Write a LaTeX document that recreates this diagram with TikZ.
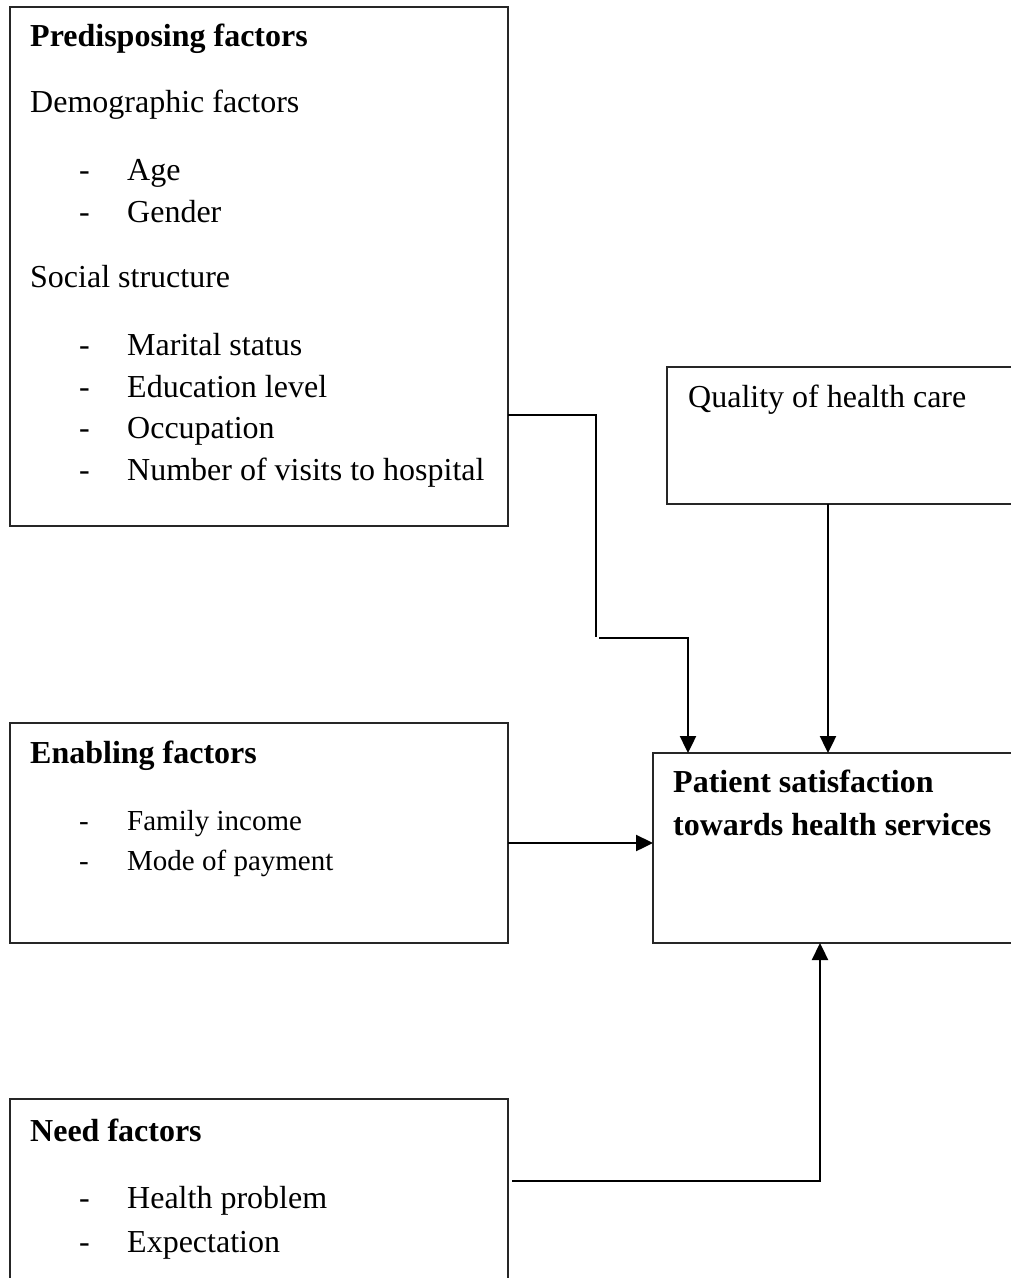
\documentclass[tikz,border=0pt]{standalone}
\usepackage{fontspec}
\setmainfont{Liberation Serif}
\usetikzlibrary{arrows.meta}
\begin{document}
\begin{tikzpicture}[x=1pt,y=-1pt,
  box/.style={draw=black!85, line width=1.3pt, rectangle, inner sep=0pt, outer sep=0pt, anchor=north west},
  txt/.style={anchor=base west, inner sep=0pt, font=\fontsize{32}{38}\selectfont},
  btxt/.style={anchor=base west, inner sep=0pt, font=\fontsize{32}{38}\selectfont\bfseries},
  stxt/.style={anchor=base west, inner sep=0pt, font=\fontsize{29}{35}\selectfont},
  conn/.style={line width=2.4pt, -{Triangle[length=17pt,width=16pt]}},
  plainline/.style={line width=2.4pt}]
\useasboundingbox (0,0) rectangle (1011,1278);
\clip (0,0) rectangle (1011,1278);

% boxes
\node[box, minimum width=498pt, minimum height=519pt] (pred) at (10,7) {};
\node[box, minimum width=420pt, minimum height=137pt] (quality) at (667,367) {};
\node[box, minimum width=420pt, minimum height=190pt] (patient) at (653,753) {};
\node[box, minimum width=498pt, minimum height=220pt] (enab) at (10,723) {};
\node[box, minimum width=498pt, minimum height=260pt] (need) at (10,1099) {};

% predisposing texts
\node[btxt] (t1) at (30,46) {Predisposing factors};
\node[txt] (t2) at (30,112) {Demographic factors};
\node[txt] (d1) at (79,180) {-};
\node[txt] (t3) at (127,180) {Age};
\node[txt] (d2) at (79,222) {-};
\node[txt] (t4) at (127,222) {Gender};
\node[txt] (t5) at (30,287) {Social structure};
\node[txt] (d3) at (79,355) {-};
\node[txt] (t6) at (127,355) {Marital status};
\node[txt] (d4) at (79,397) {-};
\node[txt] (t7) at (127,397) {Education level};
\node[txt] (d5) at (79,438) {-};
\node[txt] (t8) at (127,438) {Occupation};
\node[txt] (d6) at (79,480) {-};
\node[txt] (t9) at (127,480) {Number of visits to hospital};

% quality
\node[txt] (q1) at (688,407) {Quality of health care};

% patient
\node[btxt] (p1) at (673,792) {Patient satisfaction};
\node[btxt] (p2) at (673,835) {towards health services};

% enabling
\node[btxt] (e1) at (30,763) {Enabling factors};
\node[stxt] (ed1) at (79,830) {-};
\node[stxt] (e2) at (127,830) {Family income};
\node[stxt] (ed2) at (79,870) {-};
\node[stxt] (e3) at (127,870) {Mode of payment};

% need
\node[btxt] (n1t) at (30,1141) {Need factors};
\node[txt] (nd1) at (79,1208) {-};
\node[txt] (n2t) at (127,1208) {Health problem};
\node[txt] (nd2) at (79,1252) {-};
\node[txt] (n3t) at (127,1252) {Expectation};

% connectors
\coordinate (a1) at (596,415);
\coordinate (a2) at (596,637);
\coordinate (a2b) at (599,638);
\coordinate (a3) at (688,638);
\draw[plainline] (pred.east |- a1) -- (a1) -- (a2);
\draw[conn] (a2b) -- (a3) -- (a3 |- patient.north);

\coordinate (qx) at (828,0);
\draw[conn] (quality.south -| qx) -- (patient.north -| qx);

\coordinate (ey) at (0,843);
\draw[conn] (enab.east |- ey) -- (patient.west |- ey);

\coordinate (n0) at (512,1181);
\coordinate (n1) at (820,1181);
\draw[conn] (n0) -- (n1) -- (n1 |- patient.south);
\end{tikzpicture}
\end{document}
